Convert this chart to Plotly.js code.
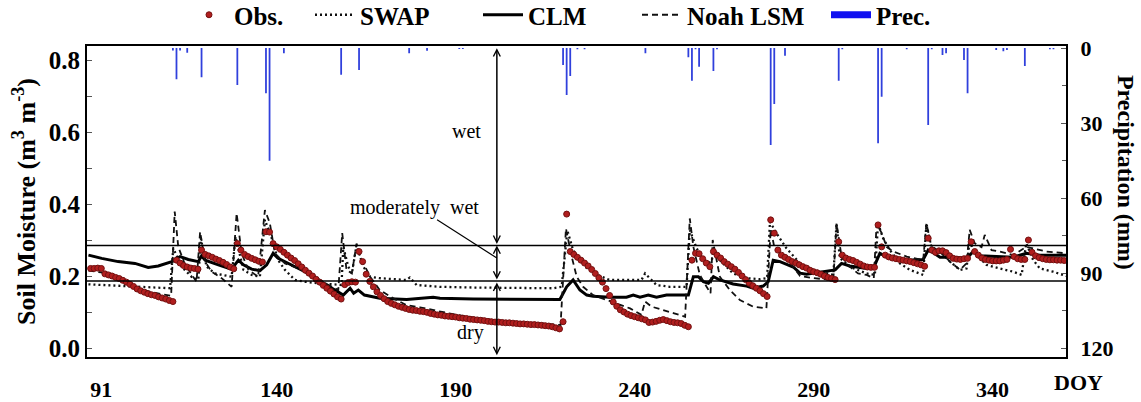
<!DOCTYPE html>
<html>
<head>
<meta charset="utf-8">
<script src="https://cdn.plot.ly/plotly-3.0.1.min.js"></script>
<style>html,body{margin:0;padding:0;background:#fff;}#chart{width:1141px;height:402px;}</style>
</head>
<body>
<div id="chart"></div>
<script>
// ---------------- DATA ----------------
// Observed soil moisture, daily, starting at DOY 88
const obsStartDoy = 88;
const obsSM = [
  0.221,0.221,0.222,0.221,0.206,0.203,0.200,0.196,0.193,0.188,0.183,0.177,0.171,0.164,0.159,0.155,0.151,0.148,0.146,0.142,0.139,0.136,0.132,0.129,
  0.244,0.236,0.229,0.225,0.222,0.221,0.219,
  0.272,0.260,0.256,0.252,0.247,0.243,0.238,0.232,0.225,0.220,
  0.290,0.272,0.260,0.254,0.249,0.245,0.241,0.239,
  0.323,0.322,0.290,0.281,0.274,0.266,0.258,0.250,0.243,0.234,0.225,0.216,0.208,0.200,0.191,0.183,0.174,0.166,0.158,0.150,0.142,0.136,
  0.176,0.182,0.184,0.183,
  0.268,0.240,0.205,0.185,0.170,0.156,0.146,0.137,0.129,0.124,0.120,0.116,0.113,0.110,0.107,0.105,0.104,0.102,0.101,0.099,0.096,0.094,0.092,0.091,0.089,0.088,0.087,0.086,0.084,0.083,0.082,0.080,0.079,0.078,0.077,0.076,0.074,0.073,0.072,0.072,0.071,0.070,0.070,0.069,0.068,0.067,0.067,0.066,0.065,0.065,0.064,0.063,0.062,0.061,0.059,0.056,0.053,
  0.073,0.372,0.268,0.260,0.252,0.244,0.236,0.228,0.218,0.207,0.195,0.183,0.165,0.146,0.128,0.116,0.106,0.100,0.094,0.090,0.087,0.084,0.081,0.078,0.071,0.072,0.074,0.077,0.079,0.076,0.073,0.071,0.070,0.068,0.063,0.059,
  0.244,0.263,0.262,0.248,0.236,0.226,0.268,0.258,0.250,0.240,0.233,0.226,0.219,0.210,0.200,0.190,0.180,0.173,0.166,0.159,0.151,0.143,
  0.356,0.319,0.272,0.258,0.252,0.246,0.240,0.236,0.231,0.226,0.222,0.216,0.212,0.209,0.205,0.200,0.196,0.193,0.190,
  0.295,0.258,0.250,0.246,0.243,0.238,0.233,0.228,0.225,0.224,0.224,
  0.342,0.281,0.258,0.253,0.250,0.248,0.246,0.244,0.242,0.240,0.237,0.234,0.231,0.227,
  0.305,0.272,0.266,0.270,0.270,0.265,0.256,0.249,0.247,0.246,0.248,0.249,
  0.295,0.268,0.258,0.250,0.246,0.244,0.242,0.242,0.242,0.244,0.246,
  0.274,0.254,0.248,0.246,0.246,
  0.300,0.266,0.256,0.251,0.248,0.246,0.245,0.245,0.244,0.244,0.243
];

const swapDoy = [87.4,110.2,111.1,113.4,116.2,118.1,118.8,120.4,122.8,127.4,128.5,130.7,133.0,135.3,136.7,138.6,140.4,142.3,145.1,147.9,151.6,155.4,158.1,158.6,160.0,161.0,162.3,164.2,166.1,168.8,176.3,177.2,179.1,185.6,194.9,217.3,219.6,221.2,222.8,226.6,230.3,233.0,241.9,242.9,244.7,246.1,249.8,254.5,255.4,257.3,260.1,261.5,262.1,263.8,267.5,271.3,275.0,277.0,277.8,279.6,282.4,286.2,289.9,295.5,296.4,297.3,300.1,304.8,307.1,308.0,309.4,311.3,314.1,316.9,320.6,321.5,322.9,325.3,328.1,330.9,332.7,333.6,334.6,338.3,342.0,345.7,348.1,349.4,351.3,353.2,356.9,360.6];
const swapSM  = [0.177,0.166,0.277,0.226,0.198,0.189,0.305,0.226,0.207,0.198,0.309,0.217,0.203,0.198,0.356,0.305,0.244,0.217,0.189,0.184,0.180,0.177,0.175,0.280,0.226,0.207,0.286,0.226,0.198,0.194,0.189,0.196,0.175,0.170,0.168,0.166,0.170,0.326,0.272,0.222,0.200,0.189,0.189,0.207,0.189,0.175,0.170,0.170,0.328,0.277,0.235,0.240,0.277,0.244,0.207,0.194,0.191,0.194,0.351,0.319,0.277,0.235,0.217,0.203,0.346,0.250,0.226,0.207,0.203,0.346,0.305,0.272,0.235,0.217,0.203,0.346,0.281,0.268,0.240,0.217,0.221,0.300,0.268,0.231,0.221,0.212,0.203,0.291,0.245,0.221,0.212,0.200];

const clmDoy = [87.4,91.1,95.7,100.4,104.1,106.9,110.7,113.0,115.3,118.1,119.0,120.0,123.7,127.4,129.3,130.7,133.0,135.3,137.2,139.0,140.4,144.2,147.9,151.6,155.4,158.6,160.5,161.5,162.8,164.5,168.8,176.3,183.7,185.6,194.9,209.8,219.1,221.0,222.8,224.7,226.6,228.4,233.1,237.7,239.6,241.5,243.8,246.1,248.9,255.0,256.4,257.8,259.2,260.6,262.0,263.8,267.5,271.3,273.1,275.9,277.3,278.7,280.6,284.3,286.2,288.0,290.0,293.0,296.0,297.8,300.1,304.8,306.8,308.5,311.3,316.0,320.6,322.0,323.4,325.3,329.0,332.7,334.6,336.4,342.0,345.7,349.4,353.2,360.6];
const clmSM  = [0.258,0.249,0.240,0.235,0.224,0.228,0.240,0.254,0.246,0.240,0.256,0.244,0.231,0.219,0.244,0.231,0.219,0.215,0.231,0.263,0.249,0.231,0.212,0.189,0.166,0.147,0.166,0.152,0.161,0.147,0.138,0.135,0.141,0.138,0.136,0.135,0.135,0.170,0.189,0.161,0.147,0.144,0.141,0.141,0.147,0.141,0.147,0.141,0.147,0.147,0.198,0.198,0.184,0.180,0.198,0.189,0.178,0.172,0.166,0.172,0.184,0.244,0.240,0.225,0.208,0.205,0.208,0.212,0.217,0.235,0.228,0.221,0.224,0.263,0.249,0.244,0.246,0.272,0.265,0.252,0.252,0.249,0.268,0.256,0.254,0.252,0.263,0.258,0.258];

const noahDoy = [87.4,91.0,95.0,100.0,105.0,110.5,111.5,112.5,114.4,116.2,117.6,118.6,120.0,121.8,124.6,127.4,128.8,130.2,132.1,134.8,136.7,138.1,139.5,142.3,146.0,149.8,153.5,157.2,158.3,159.5,161.0,162.3,163.3,166.1,168.8,172.6,176.3,180.0,184.0,190.3,197.0,204.2,211.0,217.3,219.3,220.8,221.4,222.4,223.8,225.6,228.4,232.2,235.9,238.7,241.9,242.9,244.7,248.0,250.8,254.1,255.4,256.4,258.2,260.1,261.2,261.8,263.8,266.6,269.4,273.1,276.8,278.0,279.0,280.6,284.3,286.2,290.0,295.5,296.4,297.8,300.1,302.4,304.8,306.8,307.6,309.0,310.4,312.2,316.0,320.6,321.5,322.9,325.3,328.1,330.9,332.7,333.6,335.0,336.9,337.8,339.7,342.0,345.7,349.4,351.3,355.1,360.6];
const noahSM  = [0.215,0.210,0.195,0.170,0.155,0.145,0.379,0.281,0.231,0.203,0.184,0.323,0.240,0.212,0.194,0.170,0.374,0.263,0.217,0.198,0.383,0.346,0.263,0.235,0.221,0.203,0.180,0.161,0.319,0.217,0.207,0.290,0.254,0.198,0.161,0.138,0.119,0.113,0.105,0.092,0.082,0.073,0.070,0.067,0.064,0.332,0.300,0.254,0.198,0.170,0.147,0.133,0.119,0.110,0.092,0.129,0.115,0.106,0.097,0.087,0.360,0.281,0.203,0.170,0.152,0.300,0.198,0.161,0.133,0.115,0.110,0.330,0.281,0.263,0.225,0.200,0.194,0.189,0.346,0.254,0.226,0.207,0.203,0.194,0.346,0.319,0.281,0.268,0.254,0.244,0.346,0.281,0.268,0.240,0.217,0.235,0.328,0.291,0.280,0.314,0.272,0.268,0.258,0.281,0.277,0.268,0.263];

// Precipitation (mm)
const precDoy = [111,112,113,115,119,129,137,138,142,158,163,177,182,191,192,220,221,222,224,226,243,255,256,257,258,262,263,278,279,282,297,298,308,309,316,322,323,326,327,332,333,341,343,344,349,356,357];
const precMM  = [1,12.5,1,1.9,11.7,14.8,18.1,45.1,2.1,10.7,8.8,2.1,1.1,0.4,0.4,6.8,18.8,11.2,0.5,0.5,2.1,3.7,13.1,0.5,7.5,9.2,0.5,38.8,22.4,3.1,13.1,0.5,38.1,19.5,0.5,30.8,0.5,2.8,2.1,4.8,18.1,0.8,1.3,0.8,7.2,0.5,0.5];

// Classification thresholds and labels
const wetLimit = 0.285;
const dryLimit = 0.186;
const xTickVals = [91,140,190,240,290,340];
const yTickVals = [0.0,0.2,0.4,0.6,0.8];
const y2TickVals = [0,30,60,90,120];

// ---------------- CHART ----------------
const serif = '"Liberation Serif", "Times New Roman", serif';
const obsDoy = obsSM.map((_, i) => obsStartDoy + i);

const traces = [
  {type:'bar', x:precDoy, y:precMM, yaxis:'y2', width:0.5, marker:{color:'#3040dc'}, showlegend:false, hoverinfo:'x+y'},
  {type:'scatter', mode:'lines', name:'SWAP', x:swapDoy, y:swapSM, line:{color:'#111', width:2.3, dash:'2px,3px'}, legend:'legend2'},
  {type:'scatter', mode:'lines', name:'CLM', x:clmDoy, y:clmSM, line:{color:'#000', width:3}, legend:'legend3'},
  {type:'scatter', mode:'lines', name:'Noah LSM', x:noahDoy, y:noahSM, line:{color:'#111', width:1.8, dash:'6px,4px'}, legend:'legend4'},
  {type:'scatter', mode:'markers', name:'Obs.', x:obsDoy, y:obsSM, marker:{color:'#b01e1e', size:6, line:{color:'#741010', width:1}}, legend:'legend'},
  {type:'scatter', mode:'lines', name:'Prec.', x:[null], y:[null], yaxis:'y2', line:{color:'#1010f0', width:7}, legend:'legend5'}
];

const legFont = {family:serif, size:25, color:'#000', weight:'bold'};
function leg(xpx){
  return {xref:'container', yref:'container', x:xpx/1141, y:1-15/402, xanchor:'left', yanchor:'middle',
          orientation:'h', font:legFont, bgcolor:'rgba(0,0,0,0)', itemwidth:40};
}

const arrowX = 201.5;
const plotTop = 0.833, plotBottom = -0.02;
function arrow(y0, y1){
  return {x:arrowX, y:y1, ax:arrowX, ay:y0, xref:'x', yref:'y', axref:'x', ayref:'y',
          showarrow:true, arrowhead:5, startarrowhead:5, arrowside:'end+start', arrowsize:0.9,
          arrowwidth:1.5, arrowcolor:'#000', text:'', standoff:0, startstandoff:0};
}
const annFont = {family:serif, size:20, color:'#000'};

const layout = {
  width:1141, height:402,
  margin:{l:87, r:75, t:46, b:45},
  paper_bgcolor:'#fff', plot_bgcolor:'#fff',
  showlegend:true,
  legend:leg(184), legend2:leg(310), legend3:leg(478), legend4:leg(637), legend5:leg(826),
  xaxis:{range:[87,360.5], tickvals:xTickVals, ticks:'', showgrid:false, zeroline:false,
         showline:true, mirror:true, linecolor:'#000', linewidth:2,
         tickfont:{family:serif, size:22, color:'#000', weight:'bold'}, ticklabelstandoff:12},
  yaxis:{range:[-0.025,0.839], tickvals:yTickVals, tickformat:'.1f', ticks:'inside', ticklen:5, tickcolor:'#555',
         minor:{dtick:0.1, ticks:'inside', ticklen:5, tickcolor:'#555'},
         showgrid:false, zeroline:false, showline:true, linecolor:'#000', linewidth:2,
         tickfont:{family:serif, size:25, color:'#000', weight:'bold'},
         title:{text:'Soil Moisture (m<sup>3</sup> m<sup>-3</sup>)', standoff:6, font:{family:serif, size:26, color:'#000', weight:'bold'}}},
  yaxis2:{overlaying:'y', side:'right', range:[123.6,-0.8], tickvals:y2TickVals, ticks:'inside', ticklen:5, tickcolor:'#555',
          minor:{dtick:15, ticks:'inside', ticklen:4, tickcolor:'#555'},
          showgrid:false, zeroline:false, showline:true, linecolor:'#000', linewidth:2,
          tickfont:{family:serif, size:22, color:'#000', weight:'bold'}, ticklabelstandoff:8},
  shapes:[
    {type:'line', xref:'paper', x0:0, x1:1, yref:'y', y0:wetLimit, y1:wetLimit, line:{color:'#000', width:1.5}},
    {type:'line', xref:'paper', x0:0, x1:1, yref:'y', y0:dryLimit, y1:dryLimit, line:{color:'#000', width:1.5}},
    {type:'line', xref:'x', yref:'y', x0:184.8, y0:0.356, x1:arrowX, y1:0.25, line:{color:'#000', width:1.2}}
  ],
  annotations:[
    arrow(wetLimit, plotTop),
    arrow(dryLimit, wetLimit),
    arrow(dryLimit, plotBottom),
    {x:193.1, y:0.603, xref:'x', yref:'y', text:'wet', showarrow:false, font:annFont},
    {x:178.6, y:0.389, xref:'x', yref:'y', text:'moderately  wet', showarrow:false, font:annFont},
    {x:194.0, y:0.044, xref:'x', yref:'y', text:'dry', showarrow:false, font:annFont},
    {x:1.0123, y:-0.0836, xref:'paper', yref:'paper', xanchor:'center', yanchor:'middle', text:'DOY', showarrow:false,
     font:{family:serif, size:22, color:'#000', weight:'bold'}},
    {x:1.0613, y:0.595, xref:'paper', yref:'paper', xanchor:'center', yanchor:'middle', text:'Precipitation (mm)', textangle:90, showarrow:false,
     font:{family:serif, size:24, color:'#000', weight:'bold'}}
  ]
};

Plotly.newPlot('chart', traces, layout, {staticPlot:true, displayModeBar:false});
</script>
</body>
</html>
